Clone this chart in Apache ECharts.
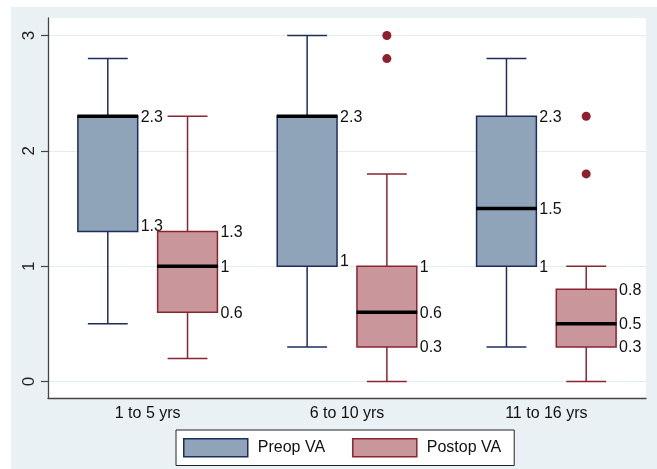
<!DOCTYPE html>
<html>
<head>
<meta charset="utf-8">
<script src="https://cdn.jsdelivr.net/npm/echarts@6/dist/echarts.min.js"></script>
<style>
html,body{margin:0;padding:0;background:#fff;}
#bg{position:absolute;left:11px;top:7px;width:646px;height:462px;background:#eaf1f4;}
#chart{position:absolute;left:0;top:0;width:657px;height:469px;}
</style>
</head>
<body>
<div id="bg"></div>
<div id="chart"></div>
<script>
// Categories (age groups)
const categories = ['1 to 5 yrs', '6 to 10 yrs', '11 to 16 yrs'];
// Box statistics per group: [lower whisker, Q1, median, Q3, upper whisker]
const preopStats = [
  [0.5, 1.3, 2.3, 2.3, 2.8],
  [0.3, 1.0, 2.3, 2.3, 3.0],
  [0.3, 1.0, 1.5, 2.3, 2.8]
];
const postopStats = [
  [0.2, 0.6, 1.0, 1.3, 2.3],
  [0.0, 0.3, 0.6, 1.0, 1.8],
  [0.0, 0.3, 0.5, 0.8, 1.0]
];
// Outliers: [group index, value]
const postopOutliers = [[1, 3.0], [1, 2.8], [2, 2.3], [2, 1.8]];
// Y tick labels
const yTicks = [0, 1, 2, 3];
const seriesNames = ['Preop VA', 'Postop VA'];

const FONT = '"Liberation Sans", Arial, Helvetica, sans-serif';
const PRE_FILL = '#8fa4b9', PRE_LINE = '#1d2c5c';
const POST_FILL = '#c8969b', POST_LINE = '#8a2431';
const OUT_COLOR = '#8e1f2e';

function fmt(v) { return String(+v.toFixed(1)); }

function boxRenderer(offsetRatio, fill, stroke, isLeft) {
  return function (params, api) {
    const cat = api.value(0);
    const band = api.size([1, 0])[0];
    const cx = api.coord([cat, 0])[0] + offsetRatio * band;
    const vals = [api.value(1), api.value(2), api.value(3), api.value(4), api.value(5)];
    const ys = vals.map(v => api.coord([cat, v])[1]);
    const bw = band * 0.3, cw = band * 0.2;
    const lw = 1.5;
    const children = [];
    children.push({ type: 'line', shape: { x1: cx, y1: ys[3], x2: cx, y2: ys[4] }, style: { stroke, lineWidth: lw } });
    children.push({ type: 'line', shape: { x1: cx - cw / 2, y1: ys[4], x2: cx + cw / 2, y2: ys[4] }, style: { stroke, lineWidth: lw } });
    children.push({ type: 'line', shape: { x1: cx, y1: ys[1], x2: cx, y2: ys[0] }, style: { stroke, lineWidth: lw } });
    children.push({ type: 'line', shape: { x1: cx - cw / 2, y1: ys[0], x2: cx + cw / 2, y2: ys[0] }, style: { stroke, lineWidth: lw } });
    children.push({ type: 'rect', shape: { x: cx - bw / 2, y: ys[3], width: bw, height: ys[1] - ys[3] }, style: { fill, stroke, lineWidth: lw } });
    children.push({ type: 'line', shape: { x1: cx - bw / 2 - 0.5, y1: ys[2], x2: cx + bw / 2 + 0.5, y2: ys[2] }, style: { stroke: '#000', lineWidth: 3.5 } });
    // labels; left box's Q1 label is lifted when the neighbouring box top sits at the same level
    const neighbourQ3 = isLeft ? postopStats[cat][3] : null;
    const seen = {};
    [3, 2, 1].forEach(i => {
      const t = fmt(vals[i]);
      if (seen[t]) return;
      seen[t] = true;
      let dy = 1;
      if (isLeft && i === 1 && Math.abs(neighbourQ3 - vals[1]) < 0.05) dy = -5;
      children.push({
        type: 'text',
        style: { text: t, x: cx + bw / 2 + 3, y: ys[i] + dy, align: 'left', verticalAlign: 'middle', font: '16px ' + FONT, fill: '#111' }
      });
    });
    return { type: 'group', children };
  };
}

function outlierRenderer(offsetRatio, color) {
  return function (params, api) {
    const cat = api.value(0);
    const band = api.size([1, 0])[0];
    const p = api.coord([cat, api.value(1)]);
    return { type: 'circle', shape: { cx: p[0] + offsetRatio * band, cy: p[1], r: 4.5 }, style: { fill: color } };
  };
}

const preData = preopStats.map((s, i) => [i].concat(s));
const postData = postopStats.map((s, i) => [i].concat(s));

const chart = echarts.init(document.getElementById('chart'), null, { renderer: 'canvas' });
chart.setOption({
  backgroundColor: 'transparent',
  animation: false,
  textStyle: { fontFamily: FONT },
  grid: { left: 48, right: 11, top: 18, bottom: 71, show: true, backgroundColor: '#fff', borderWidth: 0 },
  legend: {
    left: 176, top: 430,
    orient: 'horizontal',
    data: [
      { name: seriesNames[0], icon: 'rect', itemStyle: { color: PRE_FILL, borderColor: PRE_LINE, borderWidth: 1.5 } },
      { name: seriesNames[1], icon: 'rect', itemStyle: { color: POST_FILL, borderColor: POST_LINE, borderWidth: 1.5 } }
    ],
    itemWidth: 64, itemHeight: 18, itemGap: 27,
    padding: [8, 13, 8, 7],
    borderColor: '#222', borderWidth: 1, backgroundColor: '#fff',
    textStyle: { fontSize: 16, color: '#111', fontFamily: FONT, padding: [0, 0, 0, 5] }
  },
  xAxis: {
    type: 'category',
    data: categories,
    axisLine: { show: true, onZero: false, lineStyle: { color: '#444', width: 1.3 } },
    axisTick: { show: false },
    axisLabel: { fontSize: 16, color: '#111', margin: 8, fontFamily: FONT },
    splitLine: { show: false }
  },
  yAxis: {
    type: 'value',
    min: -0.143, max: 3.152,
    axisLine: { show: true, lineStyle: { color: '#444', width: 1.3 } },
    axisTick: { show: true, length: 7, customValues: yTicks, lineStyle: { color: '#444', width: 1.2 } },
    axisLabel: { customValues: yTicks, rotate: 90, fontSize: 17, color: '#222', margin: 10, fontFamily: FONT },
    splitLine: { show: true, lineStyle: { color: '#e3ecf0', width: 1.2 } }
  },
  series: [
    {
      name: seriesNames[0], type: 'custom', data: preData,
      encode: { x: 0, y: [1, 2, 3, 4, 5] },
      itemStyle: { color: PRE_FILL, borderColor: PRE_LINE },
      renderItem: boxRenderer(-0.2, PRE_FILL, PRE_LINE, true)
    },
    {
      name: seriesNames[1], type: 'custom', data: postData,
      encode: { x: 0, y: [1, 2, 3, 4, 5] },
      itemStyle: { color: POST_FILL, borderColor: POST_LINE },
      renderItem: boxRenderer(0.2, POST_FILL, POST_LINE, false)
    },
    {
      name: 'Postop outliers', type: 'custom', data: postopOutliers,
      encode: { x: 0, y: 1 },
      itemStyle: { color: OUT_COLOR },
      renderItem: outlierRenderer(0.2, OUT_COLOR)
    }
  ]
});
</script>
</body>
</html>
